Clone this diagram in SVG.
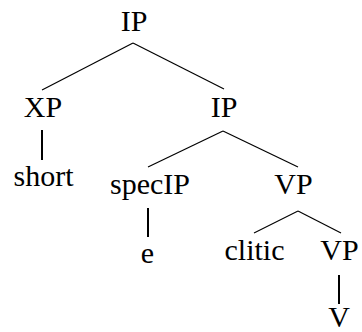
<svg xmlns="http://www.w3.org/2000/svg" width="362" height="332" viewBox="0 0 362 332">
<style>
text{font-size:30px;fill:#000;text-anchor:middle}
.e line{stroke:#000;stroke-width:1.2}
.e line.v{stroke-width:2}
</style>
<rect width="362" height="332" fill="#fff"/>
<g id="connectors" class="e">
<line x1="133" y1="43" x2="42" y2="90"/>
<line x1="133" y1="43" x2="224" y2="89"/>
<line class="v" x1="42" y1="130" x2="42" y2="160"/>
<line x1="223" y1="131" x2="148" y2="167"/>
<line x1="223" y1="131" x2="298" y2="167"/>
<line class="v" x1="148" y1="208" x2="148" y2="237"/>
<line x1="298" y1="211" x2="254" y2="233"/>
<line x1="298" y1="211" x2="341" y2="233"/>
<line class="v" x1="339" y1="275" x2="339" y2="304"/>
</g>
<g id="ip-top"><text x="134" y="31" style="font-family:'Liberation Serif',serif">IP</text></g>
<g id="xp"><text x="43" y="117" style="font-family:'Liberation Serif',serif">XP</text></g>
<g id="ip-mid"><text x="224" y="117" style="font-family:'Liberation Serif',serif">IP</text></g>
<g id="short"><text x="43.5" y="186" style="font-family:'Liberation Serif',serif">short</text></g>
<g id="specip"><text x="150" y="194" style="font-family:'Liberation Serif',serif">specIP</text></g>
<g id="vp-top"><text x="293.5" y="194" style="font-family:'Liberation Serif',serif">VP</text></g>
<g id="e"><text x="147.5" y="263" style="font-family:'Liberation Serif',serif">e</text></g>
<g id="clitic"><text x="254.5" y="260" style="font-family:'Liberation Serif',serif">clitic</text></g>
<g id="vp-low"><text x="339.5" y="260" style="font-family:'Liberation Serif',serif">VP</text></g>
<g id="v"><text x="339" y="327" style="font-family:'Liberation Serif',serif">V</text></g>
</svg>
